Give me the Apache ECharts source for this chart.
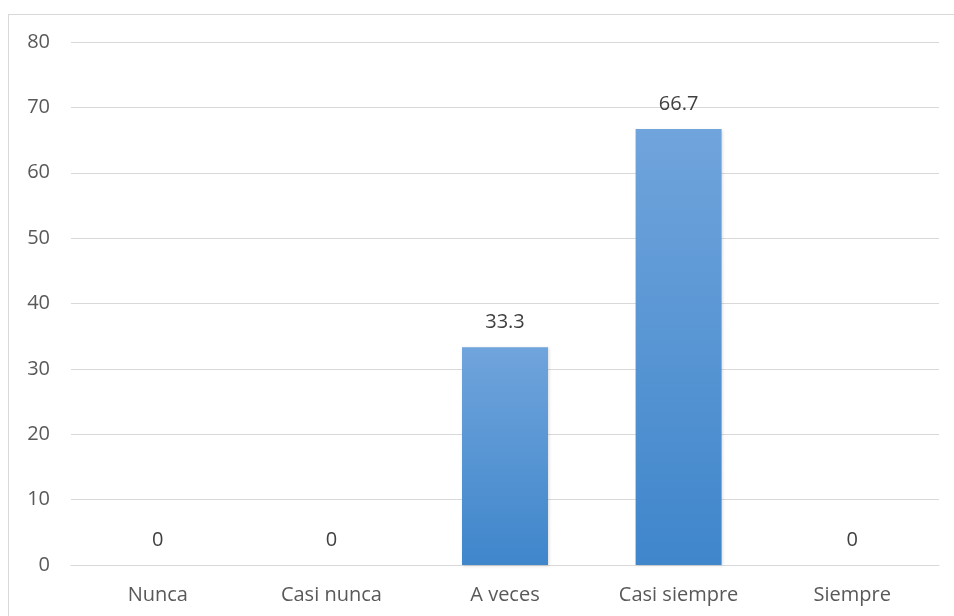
<!DOCTYPE html>
<html><head><meta charset="utf-8">
<script src="https://cdn.jsdelivr.net/npm/echarts@6/dist/echarts.min.js"></script>
<style>
html,body{margin:0;padding:0;background:#fff;}
#frame{position:absolute;left:8px;top:14px;width:960px;height:620px;border:1px solid #d9d9d9;box-sizing:border-box;}
#c{position:absolute;left:0;top:0;width:954px;height:616px;}
</style></head>
<body>
<div id="frame"></div>
<div id="c"></div>
<script>
const categories = ['Nunca', 'Casi nunca', 'A veces', 'Casi siempre', 'Siempre'];
const values = [0, 0, 33.3, 66.7, 0];
const yTicks = { min: 0, max: 80, interval: 10 };

const chart = echarts.init(document.getElementById('c'));
const font = '"Open Sans", "Liberation Sans", sans-serif';
chart.setOption({
  animation: false,
  grid: { left: 71, right: 15, top: 42, bottom: 51, containLabel: false },
  xAxis: {
    type: 'category',
    data: categories,
    axisLine: { lineStyle: { color: '#d9d9d9', width: 1 } },
    axisTick: { show: false },
    axisLabel: { color: '#595959', fontSize: 20, fontFamily: font, margin: 20 }
  },
  yAxis: {
    type: 'value',
    min: yTicks.min, max: yTicks.max, interval: yTicks.interval,
    axisLine: { show: false },
    axisTick: { show: false },
    splitLine: { lineStyle: { color: '#d9d9d9', width: 1 } },
    axisLabel: { color: '#595959', fontSize: 20, fontFamily: font, margin: 21 }
  },
  series: [{
    type: 'bar',
    data: values,
    barWidth: 86,
    itemStyle: {
      color: new echarts.graphic.LinearGradient(0, 0, 0, 1, [
        { offset: 0, color: '#70a4dc' },
        { offset: 1, color: '#3f86cb' }
      ]),
      shadowColor: 'rgba(0,0,0,0.15)', shadowBlur: 3, shadowOffsetX: 1, shadowOffsetY: 1
    },
    label: {
      show: true, position: 'top', distance: 15,
      color: '#404040', fontSize: 20, fontFamily: font
    }
  }]
});
</script>
</body></html>
